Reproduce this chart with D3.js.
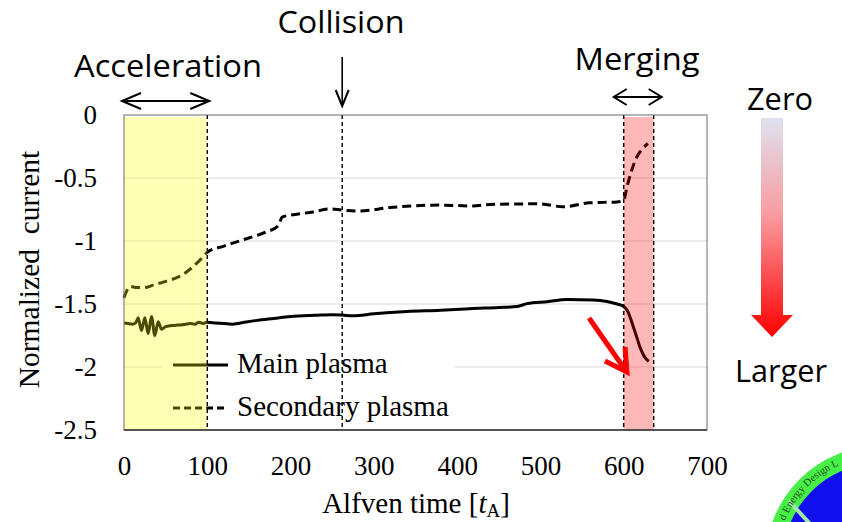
<!DOCTYPE html>
<html>
<head>
<meta charset="utf-8">
<script src="https://cdn.jsdelivr.net/npm/d3@7"></script>
<style>
  body { margin: 0; background: #fff; }
  svg { display: block; }
</style>
</head>
<body>
<div id="chart"></div>
<script>
// Main plasma (solid line), normalized current vs Alfven time
const mainTime = [0, 5, 10, 14, 17, 21, 25, 29, 33, 37, 41, 45, 50, 60, 70, 80, 85, 90, 95, 100,
  110, 120, 130, 140, 160, 180, 200, 230, 250, 262, 275, 300, 340, 380, 415, 450, 472, 484, 508, 532,
  563, 580, 592, 600, 605, 610, 615, 620, 625, 630];
const mainCurrent = [-1.65, -1.655, -1.66, -1.65, -1.61, -1.71, -1.61, -1.735, -1.60, -1.75, -1.64, -1.70,
  -1.68, -1.67, -1.665, -1.655, -1.66, -1.645, -1.655, -1.645,
  -1.65, -1.655, -1.66, -1.65, -1.63, -1.615, -1.60, -1.59, -1.585, -1.588, -1.594, -1.578, -1.56,
  -1.55, -1.537, -1.528, -1.52, -1.497, -1.482, -1.465, -1.468, -1.48, -1.5, -1.52, -1.56, -1.65,
  -1.75, -1.85, -1.92, -1.955];

// Secondary plasma (dashed line)
const secTime = [0, 3, 8, 15, 25, 35, 50, 67, 80, 90, 100, 120, 143, 170, 185, 190, 200, 227, 247, 262,
  283, 319, 379, 419, 439, 499, 527, 559, 592, 600, 604, 610, 616, 623, 629];
const secCurrent = [-1.45, -1.40, -1.36, -1.37, -1.37, -1.35, -1.32, -1.28, -1.22, -1.16, -1.09, -1.04,
  -0.99, -0.93, -0.88, -0.81, -0.795, -0.77, -0.745, -0.755, -0.762, -0.735, -0.715, -0.722, -0.71,
  -0.705, -0.728, -0.697, -0.69, -0.675, -0.57, -0.43, -0.33, -0.265, -0.225];

const xTicks = [0, 100, 200, 300, 400, 500, 600, 700];
const yTicks = [0, -0.5, -1, -1.5, -2, -2.5];
const yTickLabels = ["0", "-0.5", "-1", "-1.5", "-2", "-2.5"];

const accelSpan = [0, 100];
const mergeSpan = [600, 636];
const collisionTime = 262;
const phaseLines = [100, 262, 600, 636];

const legendNames = ["Main plasma", "Secondary plasma"];

const width = 842, height = 522;
const margin = { left: 124, right: 135, top: 115, bottom: 92 };

const svg = d3.select("#chart").append("svg")
  .attr("width", width)
  .attr("height", height);

const x = d3.scaleLinear().domain([0, 700]).range([margin.left, width - margin.right]);
const y = d3.scaleLinear().domain([-2.5, 0]).range([height - margin.bottom, margin.top]);

const serif = "'Liberation Serif', 'Times New Roman', serif";
const sans = "'Open Sans', 'Noto Sans', sans-serif";

const defs = svg.append("defs");
const grad = defs.append("linearGradient")
  .attr("id", "bigArrow").attr("x1", 0).attr("y1", 0).attr("x2", 0).attr("y2", 1);
grad.append("stop").attr("offset", "0%").attr("stop-color", "#dfe2f0");
grad.append("stop").attr("offset", "45%").attr("stop-color", "#f99a9d");
grad.append("stop").attr("offset", "100%").attr("stop-color", "#ff0000");

// gridlines
svg.append("g")
  .selectAll("line")
  .data(yTicks.slice(1, -1))
  .join("line")
  .attr("x1", x(0)).attr("x2", x(700))
  .attr("y1", d => y(d)).attr("y2", d => y(d))
  .attr("stroke", "#d9d9d9").attr("stroke-width", 1);

// legend box (white, covers gridline)
const legend = svg.append("g");
legend.append("rect")
  .attr("x", 163).attr("y", 345).attr("width", 292).attr("height", 78)
  .attr("fill", "#fff");
legendNames.forEach((name, i) => {
  const ly = 365 + i * 43;
  legend.append("line")
    .attr("x1", 173).attr("x2", 228).attr("y1", ly).attr("y2", ly)
    .attr("stroke", "#000").attr("stroke-width", 2.8)
    .attr("stroke-dasharray", i === 1 ? "7,4" : null);
  legend.append("text")
    .attr("x", 237).attr("y", ly + 8)
    .attr("font-family", serif).attr("font-size", 29)
    .text(name);
});

// data lines
const line = d3.line()
  .x(d => x(d[0]))
  .y(d => y(d[1]))
  .curve(d3.curveMonotoneX);

svg.append("path")
  .datum(d3.zip(mainTime, mainCurrent))
  .attr("d", line)
  .attr("fill", "none").attr("stroke", "#000").attr("stroke-width", 3)
  .attr("stroke-linejoin", "round");

svg.append("path")
  .datum(d3.zip(secTime, secCurrent))
  .attr("d", line)
  .attr("fill", "none").attr("stroke", "#000").attr("stroke-width", 3)
  .attr("stroke-dasharray", "9,5");

// shaded phases (translucent, over the lines)
svg.append("rect")
  .attr("x", x(accelSpan[0])).attr("width", x(accelSpan[1]) - x(accelSpan[0]))
  .attr("y", y(0) + 2).attr("height", y(-2.5) - y(0) - 2)
  .attr("fill", "#ffff00").attr("opacity", 0.29);
svg.append("rect")
  .attr("x", x(mergeSpan[0])).attr("width", x(mergeSpan[1]) - x(mergeSpan[0]))
  .attr("y", y(0) + 2).attr("height", y(-2.5) - y(0) - 2)
  .attr("fill", "#ff0000").attr("opacity", 0.28);

// phase boundaries
svg.append("g")
  .selectAll("line")
  .data(phaseLines)
  .join("line")
  .attr("x1", d => x(d)).attr("x2", d => x(d))
  .attr("y1", y(0)).attr("y2", y(-2.5))
  .attr("stroke", "#000").attr("stroke-width", 1.4)
  .attr("stroke-dasharray", "4,3");

// plot frame
svg.append("rect")
  .attr("x", x(0)).attr("y", y(0))
  .attr("width", x(700) - x(0)).attr("height", y(-2.5) - y(0))
  .attr("fill", "none").attr("stroke", "#6b6b6b").attr("stroke-width", 1);
svg.append("line")
  .attr("x1", x(0)).attr("x2", x(700)).attr("y1", y(-2.5)).attr("y2", y(-2.5))
  .attr("stroke", "#333").attr("stroke-width", 1.3);

// axes
const yAxis = svg.append("g")
  .attr("transform", `translate(${x(0)},0)`)
  .call(d3.axisLeft(y).tickValues(yTicks).tickSize(0).tickPadding(27)
    .tickFormat((d, i) => yTickLabels[i]));
const xAxis = svg.append("g")
  .attr("transform", `translate(0,${y(-2.5)})`)
  .call(d3.axisBottom(x).tickValues(xTicks).tickSize(0).tickPadding(26)
    .tickFormat(d3.format("d")));
[yAxis, xAxis].forEach(g => {
  g.select(".domain").remove();
  g.selectAll("text").attr("font-family", serif).attr("font-size", 27).attr("fill", "#000");
});

// axis titles
svg.append("text")
  .attr("transform", `translate(39,${(y(0) + y(-2.5)) / 2 - 3}) rotate(-90)`)
  .attr("text-anchor", "middle")
  .attr("font-family", serif).attr("font-size", 29.5)
  .attr("xml:space", "preserve")
  .text("Normalized  current");

const xt = svg.append("text")
  .attr("x", 416).attr("y", 513)
  .attr("text-anchor", "middle")
  .attr("font-family", serif).attr("font-size", 29);
xt.append("tspan").text("Alfven time [");
xt.append("tspan").attr("font-style", "italic").text("t");
xt.append("tspan").attr("font-size", 19).attr("dy", 4).text("A");
xt.append("tspan").attr("dy", -4).text("]");

// annotations
function arrowHead(g, tipX, tipY, dx, dy, len, half) {
  const bx = tipX - dx * len, by = tipY - dy * len;
  g.append("polyline")
    .attr("points", [[bx - dy * half, by + dx * half], [tipX, tipY], [bx + dy * half, by - dx * half]]
      .map(p => p.join(",")).join(" "))
    .attr("fill", "none").attr("stroke", "#000").attr("stroke-width", 2)
    .attr("stroke-linejoin", "miter");
}

const ann = svg.append("g");

function doubleArrow(x1, x2, yy, len, half) {
  ann.append("line").attr("x1", x1).attr("x2", x2).attr("y1", yy).attr("y2", yy)
    .attr("stroke", "#000").attr("stroke-width", 2);
  arrowHead(ann, x1, yy, -1, 0, len, half);
  arrowHead(ann, x2, yy, 1, 0, len, half);
}

doubleArrow(x(accelSpan[0]) - 2, x(accelSpan[1]) + 2, 101, 19, 8);
doubleArrow(x(mergeSpan[0]) - 10, x(mergeSpan[1]) + 8, 97, 13, 8);

ann.append("line")
  .attr("x1", x(collisionTime)).attr("x2", x(collisionTime))
  .attr("y1", 57).attr("y2", 106)
  .attr("stroke", "#000").attr("stroke-width", 1.6);
arrowHead(ann, x(collisionTime), 106, 0, 1, 16, 6.5);

const notes = [
  { text: "Acceleration", x: 168, y: 77, w: 188 },
  { text: "Collision", x: 341, y: 33, w: 127 },
  { text: "Merging", x: 637, y: 70, w: 125 },
  { text: "Zero", x: 780, y: 110, w: 66 },
  { text: "Larger", x: 781, y: 382, w: 92 }
];
ann.selectAll("text.note")
  .data(notes)
  .join("text")
  .attr("class", "note")
  .attr("x", d => d.x).attr("y", d => d.y)
  .attr("text-anchor", "middle")
  .attr("font-family", sans).attr("font-size", 31)
  .attr("textLength", d => d.w).attr("lengthAdjust", "spacingAndGlyphs")
  .text(d => d.text);

// gradient arrow on the right
ann.append("path")
  .attr("d", "M761,118 L783,118 L783,315 L793,315 L772,337 L751,315 L761,315 Z")
  .attr("fill", "url(#bigArrow)");

// red arrow pointing at the drop
ann.append("line")
  .attr("x1", 589).attr("y1", 318).attr("x2", 626).attr("y2", 371)
  .attr("stroke", "#ff0000").attr("stroke-width", 5).attr("stroke-linecap", "butt");
ann.append("polyline")
  .attr("points", "625,347 627,372 605,361")
  .attr("fill", "none").attr("stroke", "#ff0000").attr("stroke-width", 5)
  .attr("stroke-linejoin", "miter");

// lab logo peeking in at the corner
const logo = svg.append("g");
const cx = 880, cy = 560;
logo.append("circle").attr("cx", cx).attr("cy", cy).attr("r", 114).attr("fill", "#46f046");
logo.append("circle").attr("cx", cx).attr("cy", cy).attr("r", 97).attr("fill", "#1010ee");
logo.append("line").attr("x1", 789).attr("y1", 501).attr("x2", 812).attr("y2", 526)
  .attr("stroke", "#9fe6a8").attr("stroke-width", 4);
const r = 103;
defs.append("path").attr("id", "logoArc")
  .attr("d", `M${cx - r},${cy} A${r},${r} 0 1 1 ${cx + r},${cy} A${r},${r} 0 1 1 ${cx - r},${cy}`);
logo.append("text")
  .attr("font-family", serif).attr("font-size", 10.5).attr("fill", "#234a23")
  .append("textPath").attr("href", "#logoArc").attr("startOffset", 40)
  .text("d Energy Design L");
</script>
</body>
</html>
